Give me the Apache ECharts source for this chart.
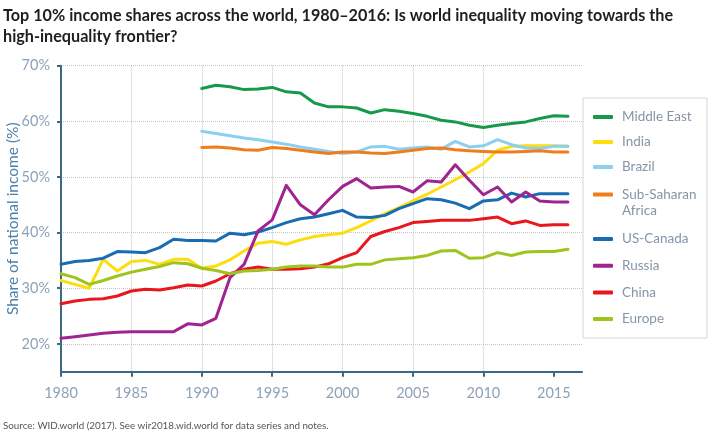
<!DOCTYPE html>
<html>
<head>
<meta charset="utf-8">
<script src="https://cdn.jsdelivr.net/npm/echarts@6/dist/echarts.min.js"></script>
<style>
html,body{margin:0;padding:0;background:#fff;}
#chart{width:714px;height:438px;}
</style>
</head>
<body>
<div id="chart"></div>
<script>
const years = [];
for (let y = 1980; y <= 2016; y++) years.push(y);

const xTicks = [1980, 1985, 1990, 1995, 2000, 2005, 2010, 2015];
const yTicks = [20, 30, 40, 50, 60, 70];

const pre1990 = [null, null, null, null, null, null, null, null, null, null];

const middleEast = pre1990.concat([65.9, 66.5, 66.2, 65.7, 65.8, 66.1, 65.3, 65.1, 63.3, 62.6, 62.6, 62.4, 61.5, 62.1, 61.8, 61.4, 60.9, 60.2, 59.9, 59.3, 58.9, 59.3, 59.6, 59.9, 60.5, 61.0, 60.9]);
const india = [31.4, 30.7, 30.0, 35.2, 33.1, 34.8, 35.0, 34.3, 35.2, 35.2, 33.6, 34.0, 35.1, 36.7, 38.1, 38.4, 37.9, 38.7, 39.3, 39.6, 39.9, 40.9, 42.1, 43.4, 44.5, 45.7, 46.9, 48.2, 49.5, 50.9, 52.4, 54.8, 55.5, 55.6, 55.6, 55.6, 55.5];
const brazil = pre1990.concat([58.2, 57.8, 57.4, 57.0, 56.7, 56.3, 55.9, 55.4, 55.0, 54.6, 54.2, 54.5, 55.4, 55.5, 55.0, 55.2, 55.4, 55.0, 56.4, 55.4, 55.6, 56.7, 55.8, 55.2, 55.1, 55.5, 55.5]);
const subSaharanAfrica = pre1990.concat([55.3, 55.4, 55.2, 54.9, 54.8, 55.3, 55.1, 54.8, 54.5, 54.2, 54.5, 54.5, 54.3, 54.2, 54.5, 54.8, 55.1, 55.2, 54.9, 54.7, 54.6, 54.5, 54.5, 54.6, 54.7, 54.5, 54.5]);
const usCanada = [34.3, 34.8, 35.0, 35.4, 36.6, 36.5, 36.4, 37.3, 38.8, 38.6, 38.6, 38.5, 39.9, 39.6, 40.1, 40.9, 41.8, 42.5, 42.8, 43.4, 44.0, 42.8, 42.7, 43.1, 44.3, 45.2, 46.1, 45.9, 45.3, 44.3, 45.7, 45.9, 47.1, 46.4, 47.0, 47.0, 47.0];
const russia = [21.0, 21.3, 21.6, 21.9, 22.1, 22.2, 22.2, 22.2, 22.2, 23.6, 23.4, 24.6, 31.9, 34.3, 40.3, 42.3, 48.5, 45.0, 43.2, 45.9, 48.3, 49.7, 48.0, 48.2, 48.3, 47.3, 49.3, 49.1, 52.2, 49.4, 46.8, 48.2, 45.5, 47.3, 45.7, 45.5, 45.5];
const china = [27.2, 27.7, 28.0, 28.1, 28.6, 29.5, 29.8, 29.7, 30.1, 30.6, 30.4, 31.3, 32.6, 33.4, 33.8, 33.4, 33.4, 33.5, 33.8, 34.4, 35.5, 36.4, 39.3, 40.2, 40.9, 41.8, 42.0, 42.2, 42.2, 42.2, 42.5, 42.8, 41.6, 42.1, 41.3, 41.4, 41.4];
const europe = [32.6, 31.9, 30.7, 31.4, 32.2, 32.9, 33.4, 33.9, 34.6, 34.4, 33.6, 33.2, 32.6, 33.1, 33.2, 33.4, 33.8, 34.0, 34.0, 33.8, 33.8, 34.3, 34.3, 35.1, 35.3, 35.5, 35.9, 36.7, 36.8, 35.4, 35.5, 36.4, 35.9, 36.5, 36.6, 36.6, 37.0];

const seriesNames = ['Middle East', 'India', 'Brazil', 'Sub-Saharan Africa', 'US-Canada', 'Russia', 'China', 'Europe'];
const seriesValues = [middleEast, india, brazil, subSaharanAfrica, usCanada, russia, china, europe];
const seriesColors = ['#17994a', '#fddd0e', '#8ccff0', '#ef7d1c', '#1a6cb2', '#a0248f', '#e8161d', '#9ec41d'];

const FONT = 'Lato, "Noto Sans", sans-serif';
const axisColor = '#3a6888';
const labelColor = '#8ea2b8';
const legendText = { color: '#8595a7', fontSize: 13.5, fontFamily: FONT, lineHeight: 16, padding: [0, 0, 0, 4] };

const chart = echarts.init(document.getElementById('chart'), null, { renderer: 'canvas' });

const series = seriesNames.map((name, i) => ({
  name: name,
  type: 'line',
  data: years.map((y, k) => [y, seriesValues[i][k]]),
  showSymbol: false,
  symbol: 'none',
  connectNulls: false,
  lineStyle: { width: 3, color: seriesColors[i], cap: 'round', join: 'round' },
  itemStyle: { color: seriesColors[i] },
  emphasis: { disabled: true }
}));

const legendBase = {
  orient: 'vertical',
  left: 593,
  padding: 0,
  icon: 'roundRect',
  itemWidth: 20,
  itemHeight: 4,
  textStyle: legendText,
  selectedMode: false
};

chart.setOption({
  animation: false,
  backgroundColor: '#fff',
  textStyle: { fontFamily: FONT },
  title: [
    {
      text: 'Top 10% income shares across the world, 1980–2016: Is world inequality moving towards the\nhigh-inequality frontier?',
      left: 3,
      top: 5,
      padding: 0,
      textStyle: { fontFamily: FONT, fontSize: 16.2, fontWeight: 'bold', color: '#1f1f1f', lineHeight: 21 }
    },
    {
      text: 'Source: WID.world (2017). See wir2018.wid.world for data series and notes.',
      left: 3,
      top: 420,
      padding: 0,
      textStyle: { fontFamily: FONT, fontSize: 9.8, fontWeight: 'normal', color: '#555', lineHeight: 12 }
    }
  ],
  legend: [
    Object.assign({}, legendBase, { data: ['Middle East', 'India', 'Brazil'], top: 109, itemGap: 9 }),
    Object.assign({}, legendBase, { data: ['Sub-Saharan Africa'], top: 186.5, formatter: function () { return 'Sub-Saharan'; } }),
    Object.assign({}, legendBase, { data: ['US-Canada', 'Russia', 'China', 'Europe'], top: 231, itemGap: 10.7 })
  ],
  graphic: [
    {
      type: 'rect',
      shape: { x: 583, y: 98, width: 124, height: 240 },
      style: { fill: 'none', stroke: '#d6d6d6', lineWidth: 1 },
      silent: true
    },
    {
      type: 'text',
      x: 622,
      y: 211,
      style: { text: 'Africa', fill: '#8595a7', font: '13.5px ' + FONT, textVerticalAlign: 'middle', verticalAlign: 'middle' },
      silent: true
    }
  ],
  grid: { left: 61, right: 132, top: 65.7, bottom: 66.3, containLabel: false, outerBoundsMode: 'none' },
  xAxis: {
    type: 'value',
    min: 1980,
    max: 2017,
    axisLine: { show: true, lineStyle: { color: axisColor, width: 2 } },
    axisTick: { show: true, customValues: xTicks, length: 5, lineStyle: { color: axisColor, width: 2 } },
    axisLabel: { customValues: xTicks, color: labelColor, fontSize: 14.5, margin: 14, fontFamily: FONT, formatter: v => String(v) },
    splitLine: { show: true, showMinLine: false, showMaxLine: false, lineStyle: { type: 'dotted', color: '#c4c4c4', width: 1 } }
  },
  yAxis: {
    type: 'value',
    min: 15,
    max: 70,
    name: 'Share of national income (%)',
    nameLocation: 'middle',
    nameGap: 40,
    nameRotate: 90,
    nameMoveOverlap: false,
    nameTextStyle: { color: '#4d7fab', fontSize: 15.5, fontFamily: FONT },
    axisLine: { show: true, lineStyle: { color: axisColor, width: 2 } },
    axisTick: { show: true, customValues: yTicks, length: 4, lineStyle: { color: axisColor, width: 2 } },
    axisLabel: { customValues: yTicks, color: labelColor, fontSize: 14.5, margin: 11, fontFamily: FONT, formatter: '{value}%' },
    splitLine: { show: true, lineStyle: { type: 'dotted', color: '#c4c4c4', width: 1 } }
  },
  tooltip: { show: false },
  series: series
});
</script>
</body>
</html>
